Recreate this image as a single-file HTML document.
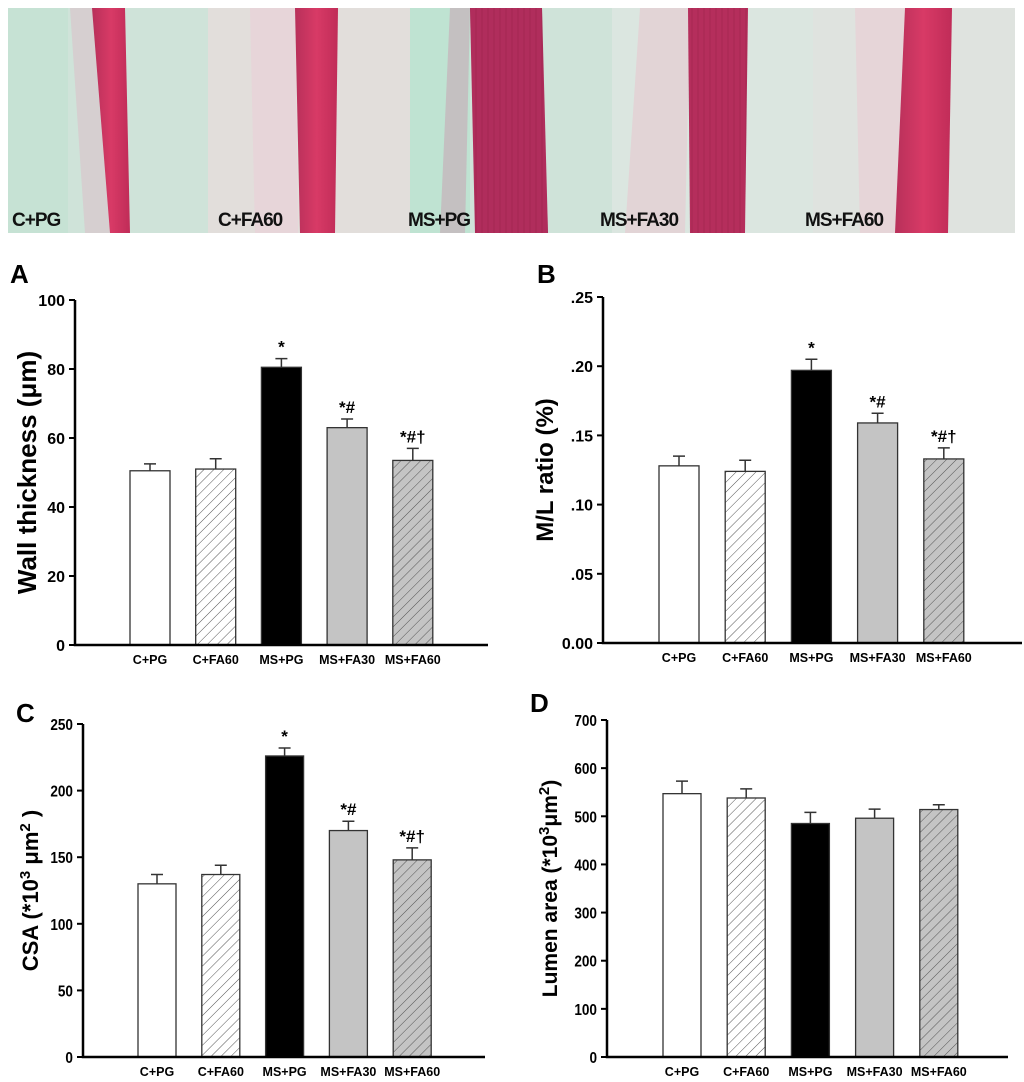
<!DOCTYPE html>
<html><head><meta charset="utf-8"><style>
body{margin:0;background:#fff;width:1024px;height:1082px;overflow:hidden;font-family:"Liberation Sans",Arial,sans-serif}
svg{display:block}
</style></head><body>
<svg id="fig" width="1024" height="1082" viewBox="0 0 1024 1082" xmlns="http://www.w3.org/2000/svg">
<defs>
<pattern id="hatchW" patternUnits="userSpaceOnUse" width="7" height="7" patternTransform="rotate(45)"><rect width="7" height="7" fill="#fff"/><line x1="0" y1="0" x2="0" y2="7" stroke="#555" stroke-width="1"/></pattern>
<pattern id="hatchG" patternUnits="userSpaceOnUse" width="7" height="7" patternTransform="rotate(45)"><rect width="7" height="7" fill="#c4c4c4"/><line x1="0" y1="0" x2="0" y2="7" stroke="#555" stroke-width="1"/></pattern>
<pattern id="streak" patternUnits="userSpaceOnUse" width="6" height="20"><line x1="2" y1="0" x2="2" y2="20" stroke="#801838" stroke-width="0.8" opacity="0.35"/></pattern>
<linearGradient id="wall" x1="0" x2="1"><stop offset="0" stop-color="#b8305a"/><stop offset="0.5" stop-color="#d83a66"/><stop offset="1" stop-color="#c02c58"/></linearGradient>
</defs>
<g>
<rect x="8" y="8" width="1007" height="225" fill="#cfe3d9"/>
<rect x="208" y="8" width="202" height="225" fill="#e2dedb"/>
<rect x="612" y="8" width="201" height="225" fill="#dbe6e0"/>
<rect x="813" y="8" width="202" height="225" fill="#dfe3df"/>
<rect x="8" y="8" width="60" height="225" fill="#c6e2d4"/>
<rect x="410" y="8" width="60" height="225" fill="#bfe3d2"/>
<polygon points="70,8 92,8 110,233 85,233" fill="#d9c6cc" opacity="0.7"/>
<polygon points="92,8 125,8 130,233 110,233" fill="url(#wall)"/>
<polygon points="250,8 295,8 298,233 255,233" fill="#e8d2d8" opacity="0.8"/>
<polygon points="295,8 338,8 335,233 300,233" fill="url(#wall)"/>
<polygon points="450,8 470,8 465,233 440,233" fill="#c8a9b6" opacity="0.6"/>
<polygon points="470,8 542,8 548,233 475,233" fill="#b02d5c"/>
<polygon points="470,8 542,8 548,233 475,233" fill="url(#streak)"/>
<polygon points="640,8 690,8 685,233 625,233" fill="#e6ccd2" opacity="0.7"/>
<polygon points="688,8 748,8 745,233 690,233" fill="#b52e5c"/>
<polygon points="688,8 748,8 745,233 690,233" fill="url(#streak)"/>
<polygon points="855,8 905,8 900,233 860,233" fill="#e8cfd4" opacity="0.7"/>
<polygon points="905,8 952,8 948,233 895,233" fill="url(#wall)"/>
<g font-weight="bold" font-size="19" fill="#111" style="letter-spacing:-1px">
<text x="12" y="226">C+PG</text>
<text x="218" y="226">C+FA60</text>
<text x="408" y="226">MS+PG</text>
<text x="600" y="226">MS+FA30</text>
<text x="805" y="226">MS+FA60</text>
</g>
</g>
<g id="plots"></g>
</svg>
<script>
const categories = ["C+PG","C+FA60","MS+PG","MS+FA30","MS+FA60"];
const fills = ["#ffffff","url(#hatchW)","#000000","#c4c4c4","url(#hatchG)"];
const annotations = ["","","*","*#","*#†"];
const wallValues = [50.5, 51, 80.5, 63, 53.5];
const wallErrors = [2, 3, 2.5, 2.5, 3.5];
const wallTicks = [0,20,40,60,80,100];
const mlValues = [0.128, 0.124, 0.197, 0.159, 0.133];
const mlErrors = [0.007, 0.008, 0.008, 0.007, 0.008];
const mlTicks = [0,0.05,0.10,0.15,0.20,0.25];
const mlTickLabels = ["0.00",".05",".10",".15",".20",".25"];
const csaValues = [130, 137, 226, 170, 148];
const csaErrors = [7, 7, 6, 7, 9];
const csaTicks = [0,50,100,150,200,250];
const lumenValues = [547, 538, 485, 496, 514];
const lumenErrors = [26, 19, 23, 19, 10];
const lumenTicks = [0,100,200,300,400,500,600,700];

const NS="http://www.w3.org/2000/svg";
const root=document.getElementById('plots');
function mk(tag,attrs,parent){const e=document.createElementNS(NS,tag);for(const k in attrs)e.setAttribute(k,attrs[k]);(parent||root).appendChild(e);return e;}

function panel(cfg){
  const g=mk('g',{});
  
  
  const y=v=>cfg.bot-(v/cfg.max)*(cfg.bot-cfg.top);
  const L=mk('text',{x:cfg.letterX,y:cfg.letterY,'font-size':26,'font-weight':'bold'},g);L.textContent=cfg.letter;
  
  
  cfg.values.forEach((v,i)=>{
    const x=cfg.first+i*cfg.sp, cx=x+cfg.w/2;
    const b=mk('rect',{x:x,y:y(v),width:cfg.w,height:cfg.bot-y(v),fill:fills[i],stroke:'#333','stroke-width':1.3},g);
    
    
    const ye=y(v+cfg.err[i]);
    const e=mk('path',{d:`M${cx},${y(v)}V${ye}M${cx-6},${ye}H${cx+6}`,stroke:'#333','stroke-width':1.5,fill:'none'},g);
    
    
    if(cfg.ann&&annotations[i]){
      const t=mk('text',{x:cx,y:ye-6,'text-anchor':'middle','font-size':17,'font-weight':'bold'},g);t.textContent=annotations[i];
      
      
    }
    const c=mk('text',{x:cx,y:cfg.bot+19,'text-anchor':'middle','font-size':12.5,'font-weight':'bold'},g);c.textContent=categories[i];
    
    
  });
  const ax=mk('path',{d:`M${cfg.ax},${cfg.top}V${cfg.bot}H${cfg.end}`,stroke:'#000','stroke-width':2.5,fill:'none'},g);
  
  
  cfg.ticks.forEach((tv,i)=>{
    mk('line',{x1:cfg.ax-6,x2:cfg.ax,y1:y(tv),y2:y(tv),stroke:'#000','stroke-width':2},g);
    const tx=cfg.ax-10;
    const t=mk('text',{x:tx,y:y(tv)+6,'text-anchor':'end','font-size':16,'font-weight':'bold'},g);
    if(cfg.narrow)t.setAttribute('transform',`translate(${tx},0) scale(0.85,1) translate(${-tx},0)`);
    t.textContent=cfg.tickLabels?cfg.tickLabels[i]:String(tv);
    
    
  });
  const yt=mk('text',{x:0,y:0,'text-anchor':'middle','font-size':cfg.titleSize,'font-weight':'bold',transform:`translate(${cfg.titleX},${(cfg.top+cfg.bot)/2}) rotate(-90)`},g);
  yt.innerHTML=cfg.title;
  
  
}
panel({name:'panel-a-wall-thickness',letter:'A',letterX:10,letterY:283,values:wallValues,err:wallErrors,ticks:wallTicks,max:100,ax:75,top:300,bot:645,end:488,first:130,sp:65.7,w:40,ann:true,title:'Wall thickness (μm)',titleX:36,titleSize:26});
panel({name:'panel-b-ml-ratio',letter:'B',letterX:537,letterY:283,values:mlValues,err:mlErrors,ticks:mlTicks,tickLabels:mlTickLabels,max:0.25,ax:603,top:297,bot:643,end:1022,first:659,sp:66.2,w:40,ann:true,title:'M/L ratio (%)',titleX:553,titleSize:24});
panel({name:'panel-c-csa',letter:'C',letterX:16,letterY:722,values:csaValues,err:csaErrors,ticks:csaTicks,max:250,ax:83,top:724,bot:1057,end:485,first:138,sp:63.8,w:38,ann:true,narrow:true,title:'CSA (*10<tspan baseline-shift="super" font-size="15">3</tspan> μm<tspan baseline-shift="super" font-size="15">2</tspan> )',titleX:38,titleSize:22});
panel({name:'panel-d-lumen-area',letter:'D',letterX:530,letterY:712,values:lumenValues,err:lumenErrors,ticks:lumenTicks,max:700,ax:607,top:720,bot:1057,end:1008,first:663,sp:64.2,w:38,ann:false,narrow:true,title:'Lumen area (*10<tspan baseline-shift="super" font-size="15">3</tspan>μm<tspan baseline-shift="super" font-size="15">2</tspan>)',titleX:557,titleSize:21});
</script>
</body></html>
